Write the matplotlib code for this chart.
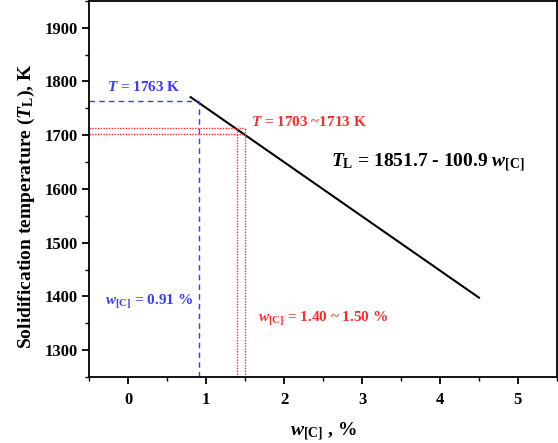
import matplotlib
matplotlib.use("Agg")
import matplotlib.pyplot as plt
import numpy as np

# Data
line_w = [0.8, 4.5]
intercept = 1851.7
slope = -100.9
blue_w = 0.91
blue_T = 1763
red_w = [1.40, 1.50]
red_T = [1713, 1703]
xticks = [0, 1, 2, 3, 4, 5]
yticks = [1300, 1400, 1500, 1600, 1700, 1800, 1900]

plt.rcParams['font.family'] = ['Liberation Serif', 'DejaVu Serif']
plt.rcParams['font.weight'] = 'bold'
plt.rcParams['mathtext.fontset'] = 'custom'
plt.rcParams['mathtext.rm'] = 'Liberation Serif:bold'
plt.rcParams['mathtext.it'] = 'Liberation Serif:italic:bold'
plt.rcParams['mathtext.bf'] = 'Liberation Serif:bold'

BLUE = '#3a3aff'
RED = '#ff2a2a'

fig = plt.figure(figsize=(5.58, 4.43), dpi=100)
ax = fig.add_axes([0.16, 0.149, 0.838, 0.849])

xlim = (-0.5, 5.5)
ylim = (1250, 1950)

lw = np.array(line_w)
ax.plot(lw, intercept + slope * lw, color='black', lw=1.5)

# blue guides
ax.plot([xlim[0], blue_w], [blue_T, blue_T], color=BLUE, ls=(0, (4, 3)), lw=1)
ax.plot([blue_w, blue_w], [ylim[0], blue_T], color=BLUE, ls=(0, (4, 3)), lw=1)

# red guides
for T in red_T:
    ax.plot([xlim[0], max(red_w)], [T, T], color=RED, ls=(0, (1, 1)), lw=1)
for w in red_w:
    ax.plot([w, w], [ylim[0], max(red_T)], color=RED, ls=(0, (1, 1)), lw=1)

ax.text(-0.27, 1789, r'$T$ = 1763 K', color=BLUE, fontsize=11, fontweight='bold', va='center')
ax.text(1.58, 1725, r'$T$ = 1703 ~1713 K', color=RED, fontsize=11, fontweight='bold', va='center')
ax.text(2.6, 1649, r'$T_{\rm L}$ = 1851.7 - 100.9 $w_{\rm [C]}$', color='black', fontsize=14, fontweight='bold', va='center')
ax.text(-0.3, 1390, r'$w_{\rm [C]}$ = 0.91 %', color=BLUE, fontsize=11, fontweight='bold', va='center')
ax.text(1.67, 1358, r'$w_{\rm [C]}$ = 1.40 ~ 1.50 %', color=RED, fontsize=11, fontweight='bold', va='center')

ax.set_xlim(*xlim)
ax.set_ylim(*ylim)
ax.set_xticks(xticks)
ax.set_yticks(yticks)
ax.set_xticks(np.arange(-0.5, 5.51, 0.5), minor=True)
ax.set_yticks(np.arange(1250, 1951, 50), minor=True)
ax.tick_params(which='major', direction='out', length=5, width=1.3, labelsize=12)
ax.tick_params(axis='x', which='major', pad=6)
ax.tick_params(which='minor', direction='out', length=3, width=1)
for lab in ax.get_xticklabels() + ax.get_yticklabels():
    lab.set_fontweight('bold')
for s in ax.spines.values():
    s.set_linewidth(1.3)

ax.set_xlabel(r'$w_{\rm [C]}$ , %', fontsize=14, fontweight='bold')
ax.set_ylabel(r'Solidification temperature ($T_{\rm L}$), K', fontsize=14, fontweight='bold')
ax.xaxis.set_label_coords(0.5, -0.115)
ax.yaxis.set_label_coords(-0.112, 0.455)

fig.savefig('out.png', dpi=100)
